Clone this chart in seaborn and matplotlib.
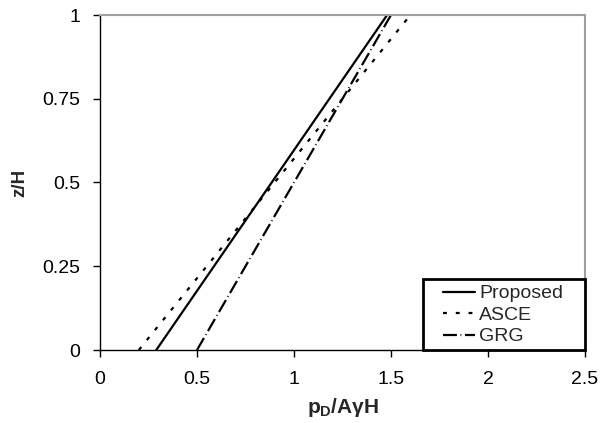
import matplotlib
matplotlib.use("Agg")
import matplotlib.pyplot as plt
from matplotlib.patches import Rectangle
import seaborn as sns
import pandas as pd

# Normalised height along the wall
z_over_h = [0.0, 1.0]

# Dynamic pressure p_D / (A*gamma*H) for each method
proposed = [0.29, 1.48]
asce = [0.20, 1.60]
grg = [0.50, 1.50]

methods = ["Proposed", "ASCE", "GRG"]
x_ticks = [0, 0.5, 1, 1.5, 2, 2.5]
x_tick_labels = ["0", "0.5", "1", "1.5", "2", "2.5"]
y_ticks = [0, 0.25, 0.5, 0.75, 1]
y_tick_labels = ["0", "0.25", "0.5", "0.75", "1"]

sns.set_theme(style="white")
plt.rcParams["font.family"] = ["Liberation Sans", "DejaVu Sans"]
plt.rcParams["lines.scale_dashes"] = False
plt.rcParams["mathtext.fontset"] = "custom"
plt.rcParams["mathtext.rm"] = "Liberation Sans:bold"
plt.rcParams["mathtext.it"] = "Liberation Sans:bold"
plt.rcParams["mathtext.bf"] = "Liberation Sans:bold"

df = pd.DataFrame({
    "p": proposed + asce + grg,
    "z": z_over_h * 3,
    "method": [m for m in methods for _ in z_over_h],
})

fig = plt.figure(figsize=(6.03, 4.23), dpi=100)
ax = fig.add_axes([100 / 603, 1 - 350 / 423, 485 / 603, 335 / 423])

line_styles = {
    "Proposed": "",
    "ASCE": (2.8, 6.4),
    "GRG": (10.0, 2.6, 0.6, 2.6),
}
sns.lineplot(data=df, x="p", y="z", style="method", style_order=methods,
             dashes=line_styles, color="black", linewidth=1.6,
             sort=False, estimator=None, ax=ax)

ax.set_xlim(0, 2.5)
ax.set_ylim(0, 1)
ax.set_xticks(x_ticks)
ax.set_xticklabels(x_tick_labels)
ax.set_yticks(y_ticks)
ax.set_yticklabels(y_tick_labels)
ax.tick_params(axis="both", which="major", labelsize=14, colors="black",
               direction="out", length=5, width=1,
               bottom=True, left=True)
ax.tick_params(axis="x", pad=10)
ax.tick_params(axis="y", pad=9)

for side in ("left", "bottom"):
    ax.spines[side].set_color("black")
    ax.spines[side].set_linewidth(1.0)
for side in ("top", "right"):
    ax.spines[side].set_color("#a0a0a0")
    ax.spines[side].set_linewidth(1.5)

ax.set_xlabel(r"$p_D/A\gamma H$", fontsize=15, labelpad=6)
ax.set_ylabel("z/H", fontsize=13.5, fontweight="bold", labelpad=10)

# Legend box in the lower-right corner of the plot area
box = Rectangle((323 / 485, 0), 162 / 485, 71 / 335, transform=ax.transAxes,
                facecolor="white", edgecolor="black", linewidth=2,
                clip_on=False, zorder=4)
ax.add_patch(box)

handles, labels = ax.get_legend_handles_labels()
leg = ax.legend(handles, labels, loc="center left",
                bbox_to_anchor=(343 / 485, 35 / 335),
                borderaxespad=0, borderpad=0, fontsize=14, frameon=False,
                handlelength=1.65, handletextpad=0.2, labelspacing=0.2)
leg.set_zorder(5)
for h in leg.get_lines():
    h.set_linewidth(1.6)

fig.savefig("out.png", dpi=100, facecolor="white")
